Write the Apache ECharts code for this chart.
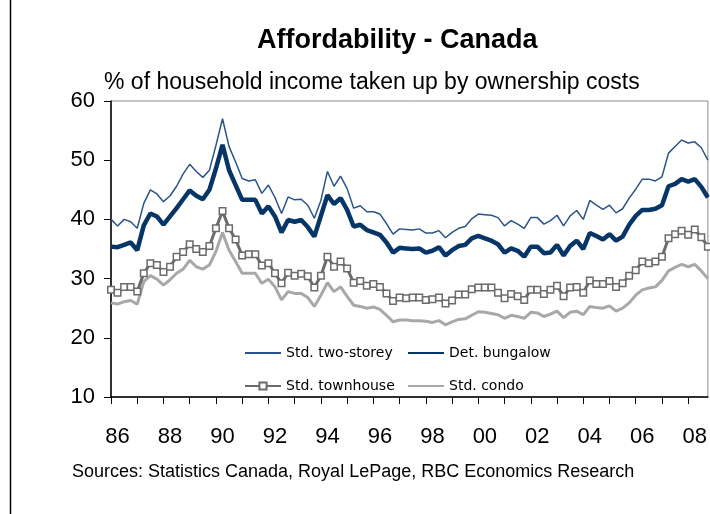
<!DOCTYPE html>
<html>
<head>
<meta charset="utf-8">
<script src="https://cdn.jsdelivr.net/npm/echarts@6/dist/echarts.min.js"></script>
<style>
  html, body { margin: 0; padding: 0; background: #fff; }
  #chart { width: 710px; height: 514px; }
</style>
</head>
<body>
<div id="chart"></div>
<script>
// quarterly, 1986 Q1 .. 2008 Q4
const firstYear = 1986
const lastYear = 2008
const tickLabels = ['86', '88', '90', '92', '94', '96', '98', '00', '02', '04', '06', '08']

const twoStorey = [
  40.0, 38.9, 40.0, 39.6, 38.5, 42.7, 45.0, 44.3, 43.0, 44.0, 45.6, 47.7,
  49.3, 48.1, 47.1, 48.3, 52.5, 57.0, 52.3, 49.7, 46.9, 46.5, 46.7, 44.4,
  45.8, 43.7, 41.0, 43.8, 43.3, 43.4, 42.4, 40.2, 43.2, 48.1, 45.6, 47.3,
  45.2, 41.9, 42.3, 41.3, 41.3, 40.9, 39.3, 37.5, 38.4, 38.3, 38.2, 38.4,
  37.7, 37.7, 38.1, 36.9, 37.8, 38.5, 38.8, 40.1, 40.9, 40.8, 40.7, 40.3,
  38.9, 39.8, 39.2, 38.5, 40.3, 40.3, 39.2, 39.8, 40.7, 38.9, 40.6, 41.5,
  40.0, 43.2, 42.4, 41.7, 42.4, 41.1, 41.8, 43.6, 45.1, 46.8, 46.8, 46.5,
  47.2, 51.2, 52.3, 53.4, 52.9, 53.1, 52.1, 50.0
]
const bungalow = [
  35.4, 35.3, 35.7, 36.1, 34.8, 39.0, 41.0, 40.5, 39.1, 40.5, 41.9, 43.4,
  44.9, 44.0, 43.4, 45.0, 48.6, 52.6, 48.3, 45.8, 43.3, 43.3, 43.3, 41.0,
  42.2, 40.5, 37.8, 39.9, 39.6, 39.9, 38.7, 37.1, 40.6, 44.1, 42.6, 43.6,
  41.6, 38.8, 39.1, 38.2, 37.8, 37.4, 36.1, 34.4, 35.2, 35.1, 35.0, 35.1,
  34.4, 34.7, 35.3, 33.9, 34.8, 35.5, 35.7, 36.8, 37.2, 36.8, 36.4, 35.8,
  34.4, 35.1, 34.7, 33.7, 35.4, 35.4, 34.3, 34.4, 35.7, 33.9, 35.5, 36.4,
  35.0, 37.7, 37.2, 36.6, 37.5, 36.4, 37.1, 39.1, 40.6, 41.6, 41.6, 41.8,
  42.4, 45.6, 46.0, 46.8, 46.4, 46.8, 45.5, 43.7
]
const townhouse = [
  28.1, 27.6, 28.6, 28.6, 27.8, 30.9, 32.6, 32.3, 31.1, 32.0, 33.7, 34.5,
  35.8, 35.0, 34.5, 35.5, 38.5, 41.4, 38.5, 36.6, 33.9, 34.1, 34.1, 32.2,
  32.6, 30.9, 29.2, 31.0, 30.5, 30.8, 30.4, 28.5, 30.5, 33.7, 32.0, 32.9,
  31.7, 29.3, 29.6, 28.8, 29.1, 28.6, 27.5, 26.2, 26.8, 26.7, 26.8, 26.8,
  26.4, 26.5, 26.8, 25.8, 26.3, 27.3, 27.3, 28.2, 28.5, 28.5, 28.5, 27.6,
  26.7, 27.4, 27.0, 26.4, 28.1, 28.1, 27.4, 28.1, 28.8, 27.0, 28.5, 28.6,
  27.6, 29.7, 29.1, 29.1, 29.6, 28.6, 29.2, 30.5, 31.4, 32.9, 32.6, 32.9,
  33.7, 36.8, 37.5, 38.1, 37.4, 38.3, 37.0, 35.4
]
const condo = [
  25.9, 25.7, 26.1, 26.3, 25.7, 29.5, 30.5, 29.9, 28.9, 29.8, 30.9, 31.6,
  33.1, 32.0, 31.6, 32.3, 34.6, 37.8, 34.8, 32.9, 30.9, 30.9, 30.9, 29.2,
  29.9, 28.6, 26.4, 27.8, 27.5, 27.5, 26.8, 25.3, 27.2, 29.3, 27.8, 28.6,
  27.0, 25.5, 25.3, 25.0, 25.2, 24.8, 23.8, 22.7, 23.0, 23.0, 22.9, 22.9,
  22.8, 22.6, 22.9, 22.2, 22.7, 23.1, 23.2, 23.8, 24.4, 24.3, 24.1, 23.9,
  23.3, 23.8, 23.6, 23.3, 24.3, 24.2, 23.6, 24.0, 24.5, 23.4, 24.3, 24.5,
  23.9, 25.3, 25.1, 25.0, 25.4, 24.5, 25.0, 25.9, 27.2, 28.1, 28.4, 28.6,
  29.7, 31.3, 31.9, 32.4, 32.0, 32.4, 31.3, 30.0
]

const quarters = []
for (let y = firstYear; y <= lastYear; y++) {
  for (let q = 1; q <= 4; q++) quarters.push(y + ' Q' + q)
}

const chart = echarts.init(document.getElementById('chart'))

const legendBase = {
  itemWidth: 36,
  itemHeight: 9,
  padding: 0,
  selectedMode: false,
  textStyle: { fontFamily: 'DejaVu Sans', fontSize: 14, color: '#000' }
}
// plain line sample, no marker in the middle
const lineOnly = (name) => ({ name, itemStyle: { opacity: 0 } })

chart.setOption({
  animation: false,
  backgroundColor: '#fff',
  title: [
    {
      text: 'Affordability - Canada',
      left: 257, top: 27, padding: 0,
      textStyle: { fontFamily: 'Liberation Sans', fontSize: 27, fontWeight: 'bold', color: '#000' }
    },
    {
      text: '% of household income taken up by ownership costs',
      left: 104, top: 71, padding: 0,
      textStyle: { fontFamily: 'Liberation Sans', fontSize: 23, fontWeight: 'normal', color: '#000' }
    },
    {
      text: 'Sources: Statistics Canada, Royal LePage, RBC Economics Research',
      left: 72, top: 463, padding: 0,
      textStyle: { fontFamily: 'Liberation Sans', fontSize: 18, fontWeight: 'normal', color: '#000' }
    }
  ],
  legend: [
    Object.assign({ data: [lineOnly('Std. two-storey')], left: 244, top: 346 }, legendBase),
    Object.assign({ data: [lineOnly('Det. bungalow')], left: 407, top: 346 }, legendBase),
    Object.assign({ data: ['Std. townhouse'], left: 244, top: 379 }, legendBase),
    Object.assign({ data: [lineOnly('Std. condo')], left: 407, top: 379 }, legendBase)
  ],
  grid: {
    left: 111, right: 2, top: 101, bottom: 117,
    show: true, borderColor: '#8c8c8c', borderWidth: 1
  },
  xAxis: {
    type: 'category',
    data: quarters,
    boundaryGap: false,
    axisLine: { lineStyle: { color: '#000', width: 1.5 } },
    axisTick: {
      interval: (i) => i % 4 === 0,
      length: 7,
      lineStyle: { color: '#000' }
    },
    axisLabel: {
      interval: (i) => i % 8 === 1,
      formatter: (v, i) => tickLabels[(i - 1) / 8],
      margin: 29,
      fontFamily: 'Liberation Sans',
      fontSize: 22,
      color: '#000'
    },
    splitLine: { show: false }
  },
  yAxis: {
    type: 'value',
    min: 10, max: 60, interval: 10,
    axisLine: { show: true, lineStyle: { color: '#000', width: 1.5 } },
    axisTick: { show: true, length: 7, lineStyle: { color: '#000' } },
    axisLabel: {
      margin: 16,
      fontFamily: 'Liberation Sans',
      fontSize: 22,
      color: '#000'
    },
    splitLine: { show: false }
  },
  series: [
    {
      name: 'Std. condo', type: 'line', data: condo,
      symbol: 'none',
      lineStyle: { color: '#a8a8a8', width: 3 },
      itemStyle: { color: '#a8a8a8' }
    },
    {
      name: 'Std. townhouse', type: 'line', data: townhouse,
      symbol: 'rect', symbolSize: 6.5, showAllSymbol: true,
      lineStyle: { color: '#6b6b6b', width: 3 },
      itemStyle: { color: '#fff', borderColor: '#6b6b6b', borderWidth: 1.5 }
    },
    {
      name: 'Std. two-storey', type: 'line', data: twoStorey,
      symbol: 'none',
      lineStyle: { color: '#2a5489', width: 1.5 },
      itemStyle: { color: '#2a5489' }
    },
    {
      name: 'Det. bungalow', type: 'line', data: bungalow,
      symbol: 'none',
      lineStyle: { color: '#063567', width: 4.5 },
      itemStyle: { color: '#063567' }
    }
  ],
  graphic: [
    {
      type: 'line',
      shape: { x1: 10.5, y1: 0, x2: 10.5, y2: 514 },
      style: { stroke: '#000', lineWidth: 1.5 }
    }
  ]
})

window.addEventListener('resize', () => {
  chart.resize()
})
</script>
</body>
</html>
